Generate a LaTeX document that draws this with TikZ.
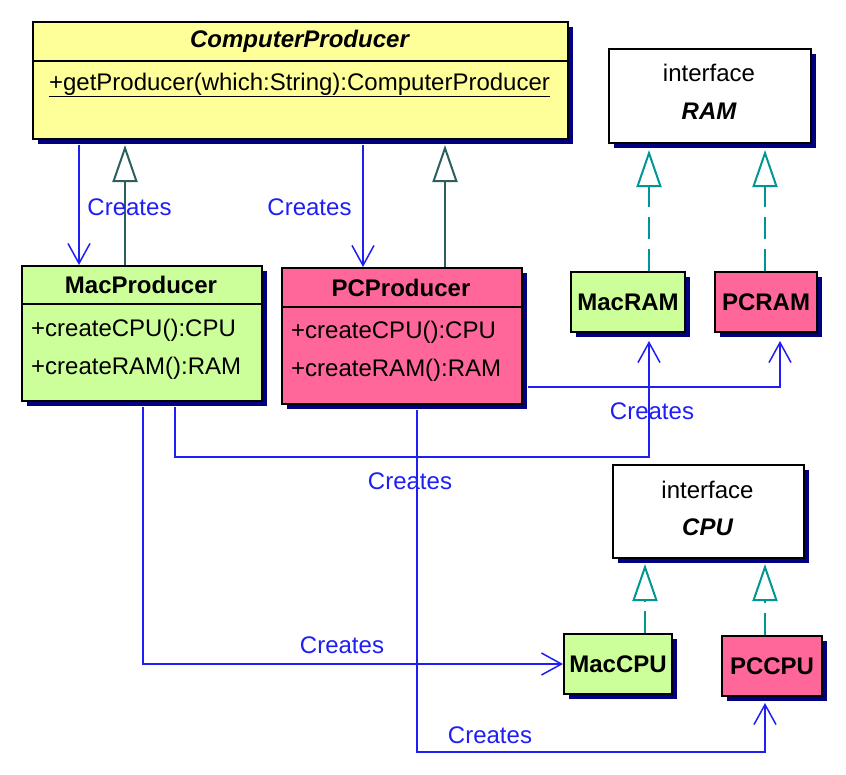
\documentclass[tikz,border=0pt]{standalone}
\usepackage{fontspec}
\setmainfont{Liberation Sans}
\usetikzlibrary{arrows.meta,shadows}
\definecolor{prodyellow}{RGB}{255,255,153}
\definecolor{macgreen}{RGB}{204,255,153}
\definecolor{pcpink}{RGB}{255,102,153}
\definecolor{shadowblue}{RGB}{0,0,128}
\definecolor{createblue}{RGB}{30,30,245}
\definecolor{genteal}{RGB}{45,95,95}
\definecolor{realteal}{RGB}{0,150,150}
\begin{document}
\begin{tikzpicture}[x=1pt,y=-1pt,
  box/.style={draw=black,line width=2pt,inner sep=0pt,anchor=north west,
    drop shadow={shadow xshift=5pt,shadow yshift=-5pt,fill=shadowblue,opacity=1}},
  lbl/.style={font=\fontsize{24}{29}\selectfont,inner sep=0pt},
  bname/.style={font=\fontsize{24}{29}\selectfont\bfseries,inner sep=0pt},
  iname/.style={font=\fontsize{24}{29}\selectfont\bfseries\itshape,inner sep=0pt},
  clbl/.style={lbl,text=createblue},
  creates/.style={draw=createblue,line width=2pt,-{Straight Barb[length=20pt,width=22pt,line width=1.5pt]}},
  gen/.style={draw=genteal,line width=2pt,-{Triangle[open,length=37pt,width=25pt,line width=2pt]}},
  real/.style={draw=realteal,line width=2pt,dash pattern=on 22pt off 10pt,-{Triangle[open,length=37pt,width=25pt,line width=2pt]}}]
\useasboundingbox (0,0) rectangle (846,774);
% classes
\node[box,fill=prodyellow,minimum width=535pt,minimum height=117pt] (cp) at (32,21) {};
\draw[line width=2pt] (cp.west |- 0,61)--(cp.east |- 0,61);
\node[iname] (cpname) at (299.5,41) {ComputerProducer};
\node[lbl] (cpop) at (299.5,85) {\underline{+getProducer(which:String):ComputerProducer}};
\node[box,fill=macgreen,minimum width=240pt,minimum height=135pt] (macp) at (21,265) {};
\draw[line width=2pt] (macp.west |- 0,304)--(macp.east |- 0,304);
\node[bname] (macpname) at (141,285) {MacProducer};
\node[lbl,anchor=west] (macpcpu) at (31,330) {+createCPU():CPU};
\node[lbl,anchor=west] (macpram) at (31,368) {+createRAM():RAM};
\node[box,fill=pcpink,minimum width=240pt,minimum height=136pt] (pcp) at (281,267) {};
\draw[line width=2pt] (pcp.west |- 0,307)--(pcp.east |- 0,307);
\node[bname] (pcpname) at (401,288) {PCProducer};
\node[lbl,anchor=west] (pcpcpu) at (291,332) {+createCPU():CPU};
\node[lbl,anchor=west] (pcpram) at (291,370) {+createRAM():RAM};
% interfaces
\node[box,fill=white,minimum width=202pt,minimum height=94pt] (ram) at (608,48) {};
\node[lbl] (ramkind) at (709,73) {interface};
\node[iname] (ramname) at (709,111) {RAM};
\node[box,fill=white,minimum width=191pt,minimum height=93pt] (cpu) at (612,464) {};
\node[lbl] (cpukind) at (707.5,490) {interface};
\node[iname] (cpuname) at (707.5,527) {CPU};
% products
\node[box,bname,fill=macgreen,minimum width=114pt,minimum height=60pt] (macram) at (570,271) {MacRAM};
\node[box,bname,fill=pcpink,minimum width=102pt,minimum height=60pt] (pcram) at (714,271) {PCRAM};
\node[box,bname,fill=macgreen,minimum width=108pt,minimum height=60pt] (maccpu) at (563,633) {MacCPU};
\node[box,bname,fill=pcpink,minimum width=100pt,minimum height=60pt] (pccpu) at (721,635) {PCCPU};
% inheritance
\draw[creates,shorten <=5pt] (cp.south -| 79,0)--(macp.north -| 79,0);
\draw[gen,shorten >=5pt] (macp.north -| 125,0)--(cp.south -| 125,0);
\draw[creates,shorten <=5pt] (cp.south -| 363,0)--(pcp.north -| 363,0);
\draw[gen,shorten >=5pt] (pcp.north -| 445,0)--(cp.south -| 445,0);
\draw[real,shorten >=6pt] (macram.north -| 649,0)--(ram.south -| 649,0);
\draw[real,shorten >=6pt] (pcram.north -| 765,0)--(ram.south -| 765,0);
\draw[real,shorten >=5pt] (maccpu.north -| 645,0)--(cpu.south -| 645,0);
\draw[real,shorten >=5pt] (pccpu.north -| 765,0)--(cpu.south -| 765,0);
% creation
\draw[creates,shorten <=5pt,shorten >=8pt] (macp.south -| 175,0) |- (649,457)--(macram.south -| 649,0);
\draw[creates,shorten <=5pt,shorten >=8pt] (pcp.east |- 0,387) -| (pcram.south -| 780,0);
\draw[creates,shorten <=5pt] (macp.south -| 143,0) |- (maccpu.west);
\draw[creates,shorten <=5pt,shorten >=6pt] (pcp.south -| 417,0) |- (765,752)--(pccpu.south -| 765,0);
\node[clbl] (c1) at (129.5,207) {Creates};
\node[clbl] (c2) at (309.5,207) {Creates};
\node[clbl] (c3) at (652,411) {Creates};
\node[clbl] (c4) at (410,481) {Creates};
\node[clbl] (c5) at (342,645) {Creates};
\node[clbl] (c6) at (490,735) {Creates};
\end{tikzpicture}
\end{document}
